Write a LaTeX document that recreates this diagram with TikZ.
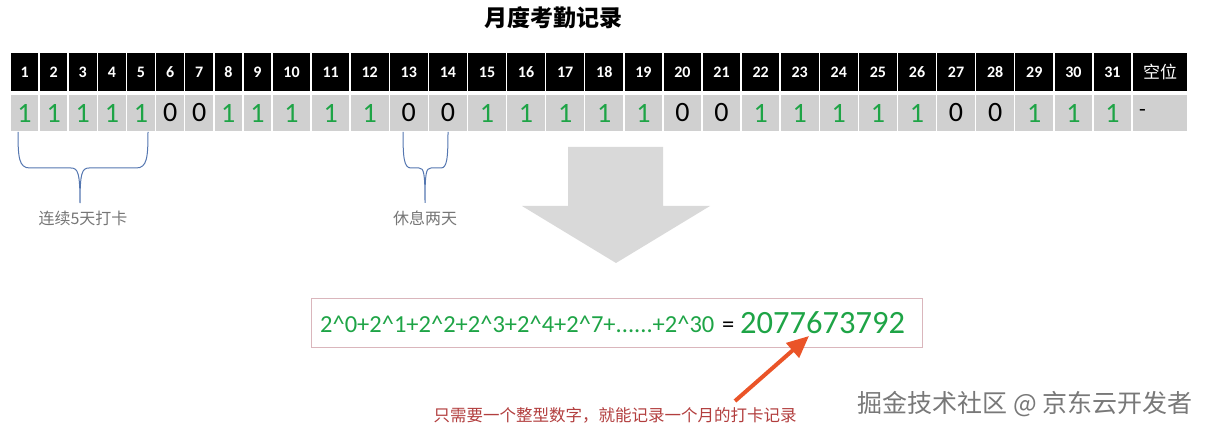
\documentclass[tikz,border=0pt]{standalone}
\usepackage{fontspec}
\setmainfont{Carlito}
\newfontfamily\cjk{Noto Sans CJK SC}
\usetikzlibrary{arrows.meta,calc}
\definecolor{okgreen}{RGB}{30,164,70}
\definecolor{cellgray}{RGB}{208,208,208}
\definecolor{bigarrow}{RGB}{217,217,217}
\definecolor{bracecol}{RGB}{84,118,176}
\definecolor{labelgray}{RGB}{118,118,118}
\definecolor{boxborder}{RGB}{218,182,188}
\definecolor{notered}{RGB}{178,62,62}
\definecolor{arroworange}{RGB}{234,84,40}
\definecolor{wmgray}{RGB}{120,120,120}
\begin{document}
\begin{tikzpicture}[x=1pt,y=-1pt,
  hcell/.style={fill=black,draw=white,line width=1.5pt,minimum height=39pt,inner sep=0pt,text=white,font=\bfseries\fontsize{16}{16}\selectfont},
  vcell/.style={fill=cellgray,draw=white,line width=1.5pt,minimum height=38pt,inner sep=0pt,font=\fontsize{28}{28}\selectfont},
  bracestyle/.style={draw=bracecol,line width=1pt},
  lbl/.style={text=labelgray,font=\cjk\fontsize{16}{16}\selectfont,inner sep=0pt},
  pointer/.style={draw=arroworange,line width=4pt,-{Triangle[length=22pt,width=19pt]}}]
\useasboundingbox (0,0) rectangle (1209,435);
% title
\node[font=\cjk\bfseries\fontsize{23}{23}\selectfont,inner sep=0pt] (title) at (553,18) {月度考勤记录};
% table
\foreach \i/\v in {1/1,2/1,3/1,4/1,5/1,6/0,7/0,8/1,9/1,10/1,11/1,12/1,13/0,14/0,15/1,16/1,17/1,18/1,19/1,20/0,21/0,22/1,23/1,24/1,25/1,26/1,27/0,28/0,29/1,30/1,31/1}{
  \ifnum\i<10
    \pgfmathsetmacro\xc{10+(\i-0.5)*29.11}\def\w{29.11}
  \else
    \pgfmathsetmacro\xc{272+(\i-9.5)*39.09}\def\w{39.09}
  \fi
  \ifnum\v=1 \def\vc{okgreen}\else\def\vc{black}\fi
  \node[hcell,minimum width=\w pt] (h\i) at (\xc,72) {\i};
  \node[vcell,minimum width=\w pt,text=\vc] (v\i) at (\xc,113) {\v};
}
\node[hcell,minimum width=56pt,font=\cjk\fontsize{17}{17}\selectfont] (hX) at (1160,72) {空位};
\node[vcell,minimum width=56pt,text width=42pt,align=left,inner xsep=7pt,font=\fontsize{22}{22}\selectfont] (vX) at (1160,113) {-};
% braces
\draw[bracestyle] (18,132) .. controls (18,158) and (19,168) .. (30,168) -- (71,168)
  .. controls (78,168) and (80,173) .. (80,203)
  .. controls (80,173) and (82,168) .. (89,168) -- (136,168)
  .. controls (147,168) and (148,158) .. (148,132);
\draw[bracestyle] (403,132) .. controls (403,158) and (404,168) .. (411,168) -- (419,168)
  .. controls (424,168) and (425,173) .. (425,203)
  .. controls (425,173) and (426,168) .. (431,168) -- (441,168)
  .. controls (447,168) and (448,158) .. (448,132);
\node[lbl] (l1) at (83,218) {连续5天打卡};
\node[lbl] (l2) at (425,218) {休息两天};
% big down arrow
\fill[bigarrow] (568,147) -- (663,147) -- (663,206) -- (710,206) -- (616,263) -- (522,206) -- (568,206) -- cycle;
% formula box
\node[draw=boxborder,line width=0.8pt,minimum width=611pt,minimum height=49pt,inner sep=0pt] (box) at (616.5,322.5) {};
\node[anchor=base west,inner sep=0pt,text=okgreen,font=\fontsize{24.5}{24.5}\selectfont] (f) at (320,333) {2\textasciicircum0+2\textasciicircum1+2\textasciicircum2+2\textasciicircum3+2\textasciicircum4+2\textasciicircum7+......+2\textasciicircum30};
\node[anchor=base west,inner sep=0pt,text=black,font=\fontsize{24.5}{24.5}\selectfont] (eq) at (722,333) {=};
\node[anchor=base west,inner sep=0pt,text=okgreen,font=\fontsize{32.5}{32.5}\selectfont] (num) at (740,334) {2077673792};
% note and pointer
\node[text=notered,font=\cjk\fontsize{16.5}{16.5}\selectfont,inner sep=0pt] (note) at (615,415) {只需要一个整型数字，就能记录一个月的打卡记录};
\coordinate (ps) at (735,401);
\coordinate (pt) at (809,336);
\draw[pointer] (ps) -- (pt);
% watermark
\node[text=wmgray,font=\cjk\fontsize{25}{25}\selectfont,inner sep=0pt] (wm) at (1025,404) {掘金技术社区 @ 京东云开发者};
\end{tikzpicture}
\end{document}
